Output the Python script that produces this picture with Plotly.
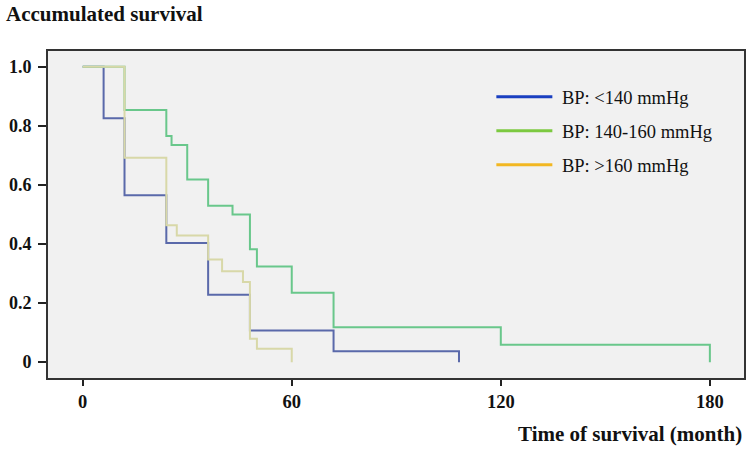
import plotly.graph_objects as go

# ---- data ----
blue_t = [0, 6, 12, 24, 36, 48, 72, 108, 108]
blue_s = [1.0, 0.825, 0.565, 0.403, 0.228, 0.107, 0.037, 0.0, 0.0]

green_t = [0, 12, 24, 25.5, 30, 36, 43, 48, 50, 60, 72, 120, 180, 180]
green_s = [1.0, 0.853, 0.765, 0.735, 0.618, 0.529, 0.5, 0.382, 0.324, 0.235, 0.118, 0.059, 0.0, 0.0]

yellow_t = [0, 12, 24, 27, 36, 40, 46, 48, 50, 60, 60]
yellow_s = [1.0, 0.692, 0.463, 0.429, 0.347, 0.308, 0.271, 0.079, 0.045, 0.0, 0.0]

series_names = ["BP: <140 mmHg", "BP: 140-160 mmHg", "BP: >160 mmHg"]
line_colors = ["#5a69aa", "#69c78b", "#d8d8a8"]
legend_colors = ["#1a3fc0", "#7cc940", "#f2b722"]

x_ticks = [0, 60, 120, 180]
y_ticks = [0, 0.2, 0.4, 0.6, 0.8, 1.0]
y_tick_labels = ["0", "0.2", "0.4", "0.6", "0.8", "1.0"]

SERIF = "Liberation Serif, Times New Roman, serif"

fig = go.Figure()
curves = [(blue_t, blue_s), (green_t, green_s), (yellow_t, yellow_s)]
for (t, s), name, c in zip(curves, series_names, line_colors):
    fig.add_trace(go.Scatter(x=t, y=s, mode="lines", line=dict(color=c, width=2, shape="hv"),
                             name=name, showlegend=False, hoverinfo="skip"))
# legend entries (brighter swatches as in the reference legend)
for i, (name, c) in enumerate(zip(series_names, legend_colors)):
    fig.add_trace(go.Scatter(x=[None], y=[None], mode="lines", line=dict(color=c, width=3),
                             name="\u00a0" + name, legendgroup="g%d" % i))

fig.update_layout(
    width=756, height=449,
    margin=dict(l=48, r=12, t=51, b=71, autoexpand=False),
    paper_bgcolor="white",
    plot_bgcolor="#f1f1f1",
    showlegend=True,
    legend=dict(x=0.637, y=0.917, xanchor="left", yanchor="top",
                bgcolor="rgba(0,0,0,0)", font=dict(family=SERIF, size=18.5, color="#111"),
                traceorder="grouped", tracegroupgap=7, itemwidth=56),
    title=dict(text="<b>Accumulated survival</b>", xref="container", yref="container",
               x=6/756, y=1-14/449, xanchor="left", yanchor="middle",
               font=dict(family=SERIF, size=21, color="#111")),
    xaxis=dict(range=[-9.96, 189.8], tickvals=x_ticks, ticks="outside", ticklen=6, tickwidth=2,
               tickcolor="#222", showgrid=False, zeroline=False, showline=True, linecolor="#333",
               linewidth=2, mirror=True, automargin=False,
               tickfont=dict(family=SERIF, size=18.5, color="#111", weight="bold")),
    yaxis=dict(range=[-0.0536, 1.053], tickvals=y_ticks, ticktext=y_tick_labels, ticks="outside",
               ticklen=8, tickwidth=2, tickcolor="#222", showgrid=False, zeroline=False,
               showline=True, linecolor="#333", linewidth=2, mirror=True, automargin=False,
               ticklabelstandoff=3,
               tickfont=dict(family=SERIF, size=18, color="#111", weight="bold")),
)
fig.add_annotation(text="<b>Time of survival (month)</b>", xref="paper", yref="paper",
                   x=1.0, y=-0.17, xanchor="right", yanchor="middle", showarrow=False,
                   font=dict(family=SERIF, size=21, color="#111"))

fig.write_html("out.html", config={"displayModeBar": False},
               post_script="document.body.style.margin='0';")
